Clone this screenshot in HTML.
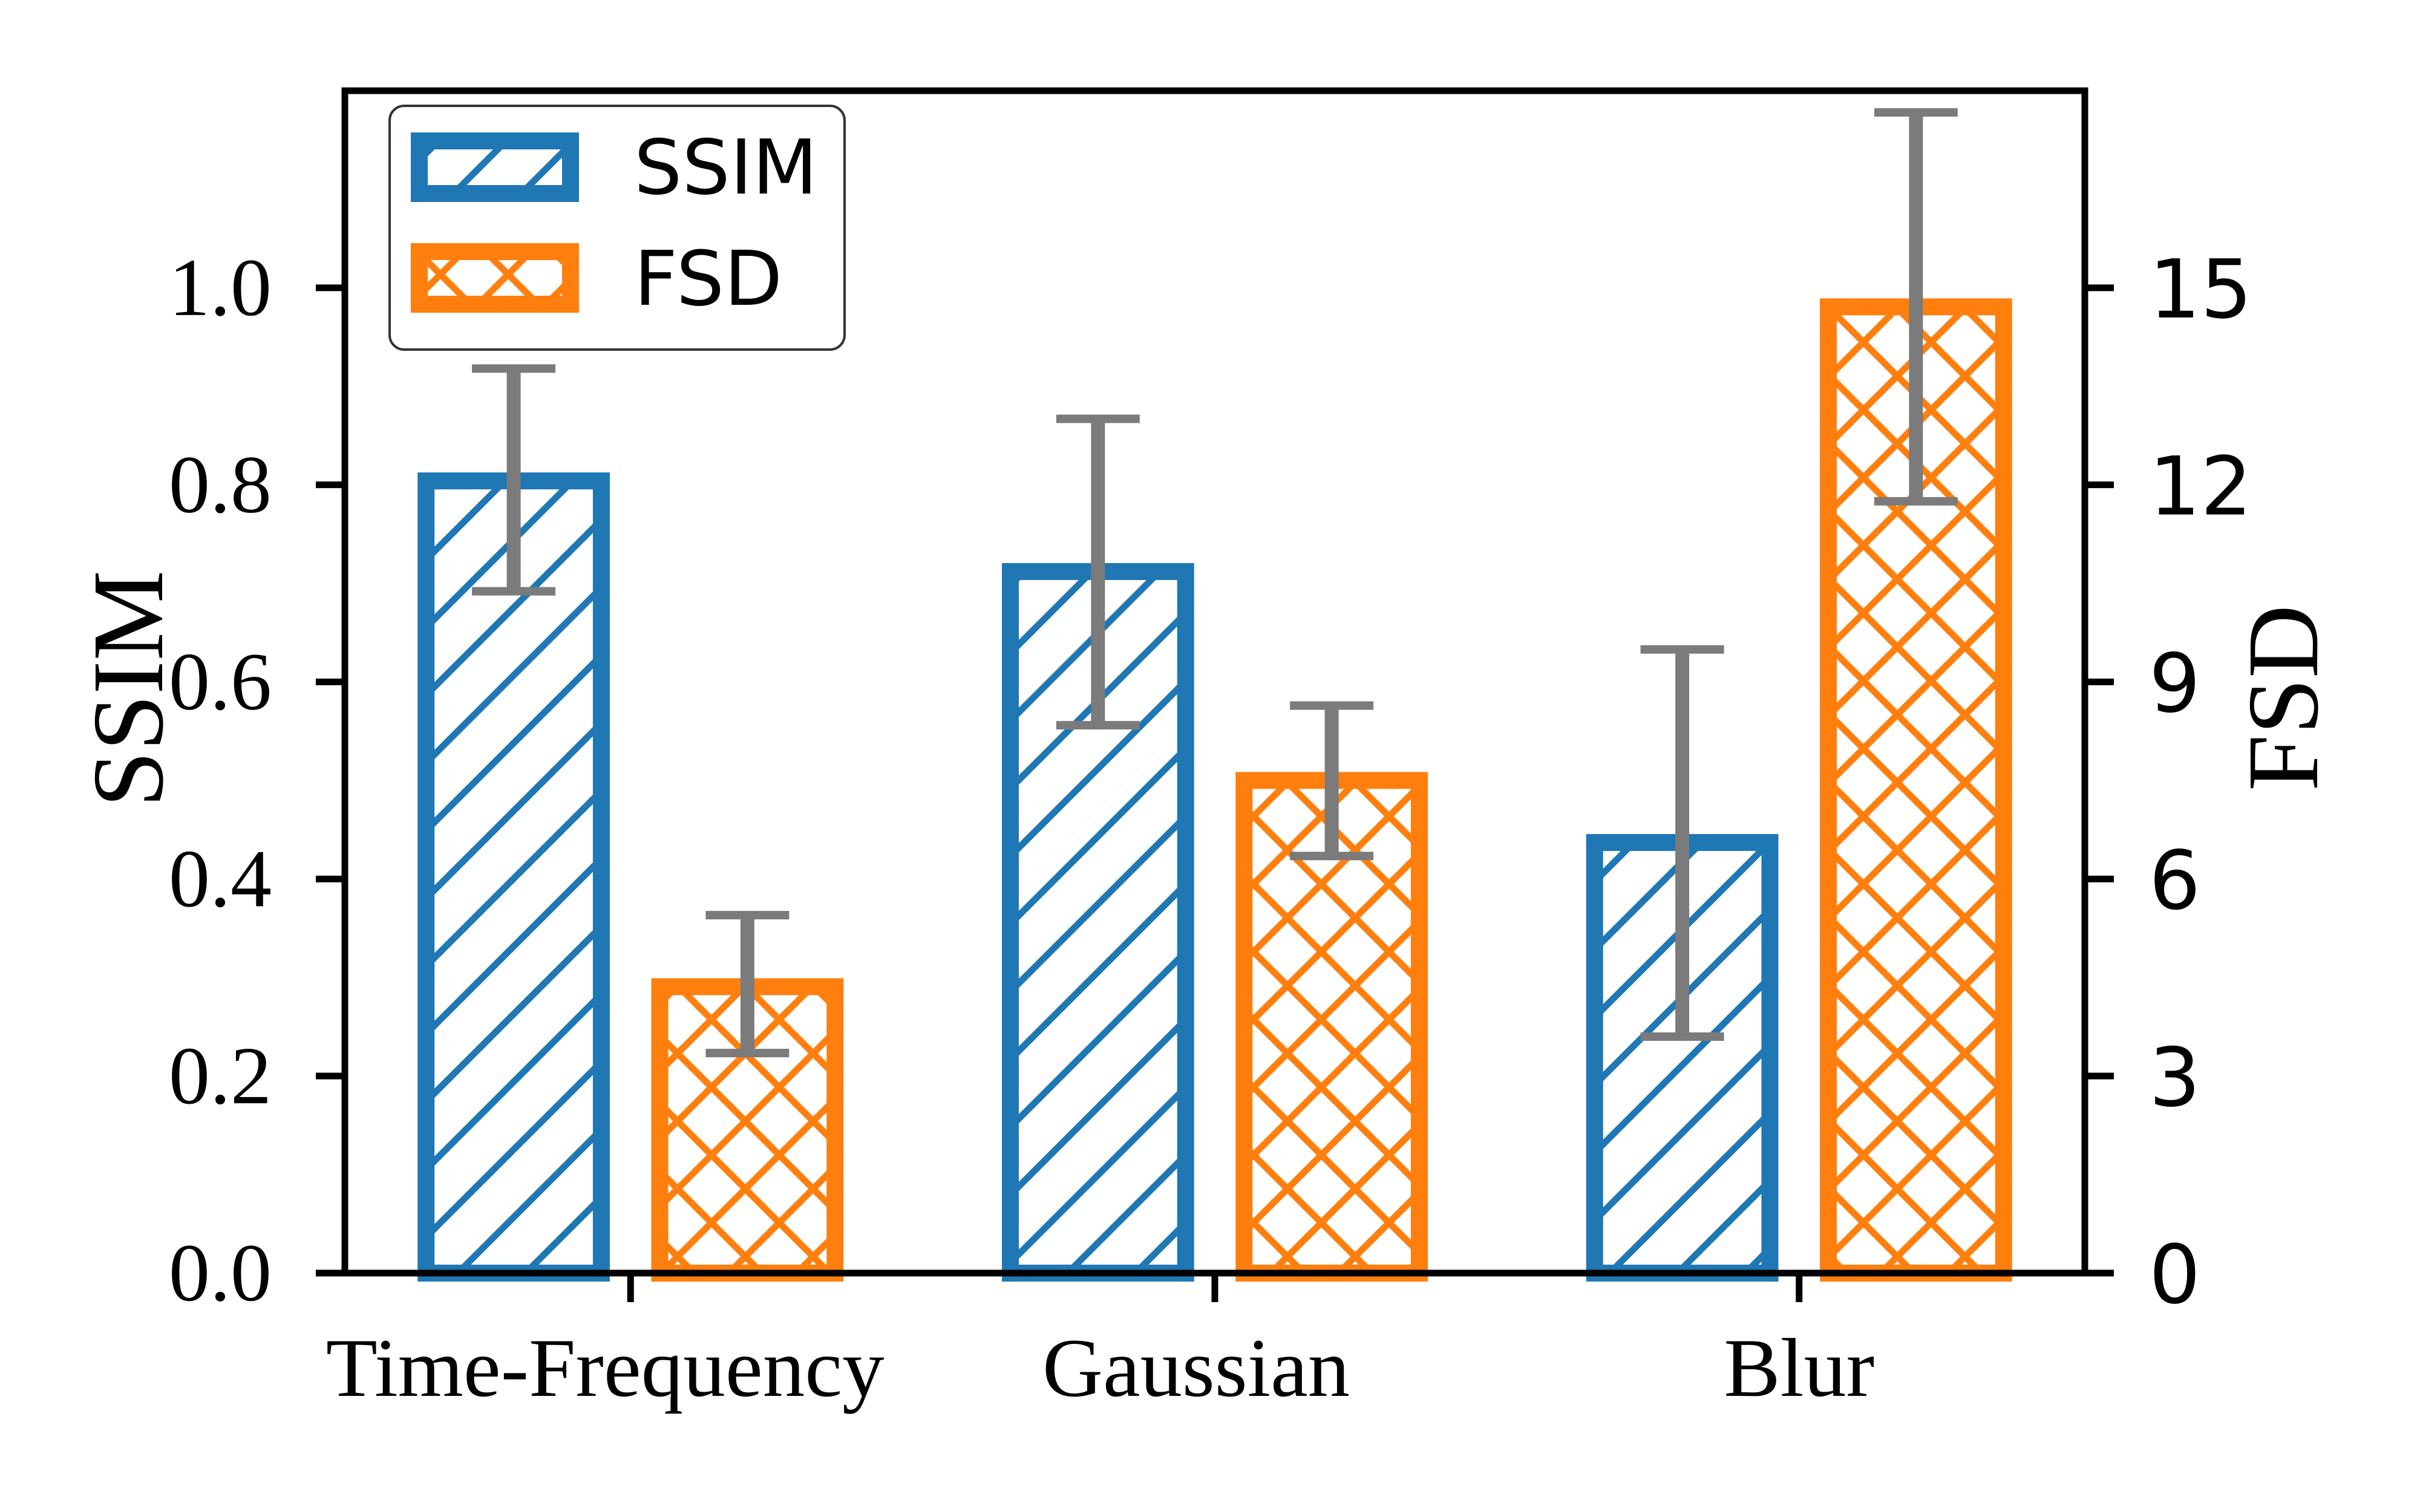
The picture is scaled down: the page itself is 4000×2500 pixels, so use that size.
<!DOCTYPE html>
<html><head><meta charset="utf-8"><style>
html,body{margin:0;padding:0;background:#fff;}
svg{display:block;}
</style></head><body>
<svg id="chart" width="4000" height="2500" viewBox="0 0 4000 2500" xmlns="http://www.w3.org/2000/svg">
<defs>
<pattern id="hatch-slash" patternUnits="userSpaceOnUse" width="112" height="112" x="0" y="61.7">
<path d="M0,112 L112,0 M-56,56 L56,-56 M56,168 L168,56" stroke="#1f77b4" stroke-width="11"/>
</pattern>
<pattern id="hatch-x" patternUnits="userSpaceOnUse" width="112" height="112" x="0" y="61.7">
<path d="M0,112 L112,0 M-56,56 L56,-56 M56,168 L168,56 M0,0 L112,112 M-56,56 L56,168 M56,-56 L168,56" stroke="#ff7f0e" stroke-width="11"/>
</pattern>
</defs>
<rect x="0" y="0" width="4000" height="2500" fill="#fff"/>
<g id="bars"></g>
<g id="axes"></g>
</svg>
<script>
const categories = ["Time-Frequency", "Gaussian", "Blur"];
const ssimValues = [0.804, 0.712, 0.437];
const ssimErrLow = [0.692, 0.556, 0.240];
const ssimErrHigh = [0.918, 0.867, 0.633];
const fsdValues = [4.36, 7.50, 14.71];
const fsdErrLow = [3.35, 6.35, 11.75];
const fsdErrHigh = [5.45, 8.64, 17.67];
const ssimTicks = [0.0, 0.2, 0.4, 0.6, 0.8, 1.0];
const ssimTickLabels = ["0.0", "0.2", "0.4", "0.6", "0.8", "1.0"];
const fsdTicks = [0, 3, 6, 9, 12, 15];
const fsdTickLabels = ["0", "3", "6", "9", "12", "15"];

const NS = "http://www.w3.org/2000/svg";
const L = 570, R = 3446, T = 150, B = 2105;
const XMIN = -0.489, XMAX = 2.489;
const SSIM_MAX = 1.2, FSD_MAX = 18;
function xs(v){ return L + (v - XMIN) / (XMAX - XMIN) * (R - L); }
function ySSIM(v){ return B - v / SSIM_MAX * (B - T); }
function yFSD(v){ return B - v / FSD_MAX * (B - T); }
function mk(tag, attrs, parent){
  const e = document.createElementNS(NS, tag);
  for (const k in attrs) e.setAttribute(k, attrs[k]);
  parent.appendChild(e);
  return e;
}
const bars = document.getElementById('bars');
const axes = document.getElementById('axes');
const W = 0.3, OFF = 0.2;
const capHalf = 69, errColor = "#7b7b7b";

function drawErr(cx, yl, yh, name){
  const g = mk('g', {}, bars);
  
  
  mk('line', {x1:cx, x2:cx, y1:yl, y2:yh, stroke:errColor, 'stroke-width':23}, g);
  mk('line', {x1:cx-capHalf, x2:cx+capHalf, y1:yl, y2:yl, stroke:errColor, 'stroke-width':14}, g);
  mk('line', {x1:cx-capHalf, x2:cx+capHalf, y1:yh, y2:yh, stroke:errColor, 'stroke-width':14}, g);
}

ssimValues.forEach((v, i) => {
  const x0 = xs(i - OFF - W/2), x1 = xs(i - OFF + W/2);
  const r = mk('rect', {x:x0, y:ySSIM(v), width:x1-x0, height:B-ySSIM(v), fill:'url(#hatch-slash)', stroke:'#1f77b4', 'stroke-width':28}, bars);
  
  
});
ssimValues.forEach((v, i) => {
  drawErr(xs(i - OFF), ySSIM(ssimErrLow[i]), ySSIM(ssimErrHigh[i]), 'ssim-error-bar-' + categories[i].toLowerCase());
});
fsdValues.forEach((v, i) => {
  const x0 = xs(i + OFF - W/2), x1 = xs(i + OFF + W/2);
  const r = mk('rect', {x:x0, y:yFSD(v), width:x1-x0, height:B-yFSD(v), fill:'url(#hatch-x)', stroke:'#ff7f0e', 'stroke-width':28}, bars);
  
  
});
fsdValues.forEach((v, i) => {
  drawErr(xs(i + OFF), yFSD(fsdErrLow[i]), yFSD(fsdErrHigh[i]), 'fsd-error-bar-' + categories[i].toLowerCase());
});

const frame = mk('rect', {x:L, y:T, width:R-L, height:B-T, fill:'none', stroke:'#000', 'stroke-width':11}, axes);



const serif = '"Liberation Serif", "Times New Roman", serif';
const sans = '"DejaVu Sans", "Liberation Sans", sans-serif';

ssimTicks.forEach((v, i) => {
  const y = ySSIM(v);
  const t = mk('line', {x1:L-48, x2:L, y1:y, y2:y, stroke:'#000', 'stroke-width':11}, axes);
  
  
  const tx = mk('text', {x:449, y:y+45, 'text-anchor':'end', 'font-family':serif, 'font-size':136, fill:'#000'}, axes);
  tx.textContent = ssimTickLabels[i];
  
  
});
fsdTicks.forEach((v, i) => {
  const y = yFSD(v);
  const t = mk('line', {x1:R, x2:R+48, y1:y, y2:y, stroke:'#000', 'stroke-width':11}, axes);
  
  
  const tx = mk('text', {x:3552, y:y+49, 'text-anchor':'start', 'font-family':sans, 'font-size':134, fill:'#000'}, axes);
  tx.textContent = fsdTickLabels[i];
  
  
});
const xLabelShift = [-42, -31, 0];
const xLabelWidth = [923, 508, 249];
categories.forEach((c, i) => {
  const x = xs(i);
  const t = mk('line', {x1:x, x2:x, y1:B, y2:B+48, stroke:'#000', 'stroke-width':11}, axes);
  
  
  const tx = mk('text', {x:x + xLabelShift[i], y:2308, 'text-anchor':'middle', 'font-family':serif, 'font-size':138, fill:'#000', textLength:xLabelWidth[i], lengthAdjust:'spacingAndGlyphs'}, axes);
  tx.textContent = c;
  
  
});
const yl = mk('text', {x:0, y:0, transform:'translate(268,1139) rotate(-90)', 'text-anchor':'middle', 'font-family':serif, 'font-size':168, fill:'#000'}, axes);
yl.textContent = 'SSIM';


const yr = mk('text', {x:0, y:0, transform:'translate(3830,1154) rotate(-90)', 'text-anchor':'middle', 'font-family':serif, 'font-size':168, fill:'#000'}, axes);
yr.textContent = 'FSD';



const lg = mk('g', {}, axes);


mk('rect', {x:644, y:175, width:752, height:403, rx:24, ry:24, fill:'#fff', 'fill-opacity':0.8, stroke:'#333', 'stroke-width':4}, lg);
const p1 = mk('rect', {x:693, y:233, width:250, height:87, fill:'url(#hatch-slash)', stroke:'#1f77b4', 'stroke-width':28}, lg);


const t1 = mk('text', {x:1048, y:320, 'font-family':sans, 'font-size':125, fill:'#000'}, lg);
t1.textContent = 'SSIM';


const p2 = mk('rect', {x:693, y:416, width:250, height:87, fill:'url(#hatch-x)', stroke:'#ff7f0e', 'stroke-width':28}, lg);


const t2 = mk('text', {x:1048, y:504, 'font-family':sans, 'font-size':125, fill:'#000'}, lg);
t2.textContent = 'FSD';


</script>
</body></html>
